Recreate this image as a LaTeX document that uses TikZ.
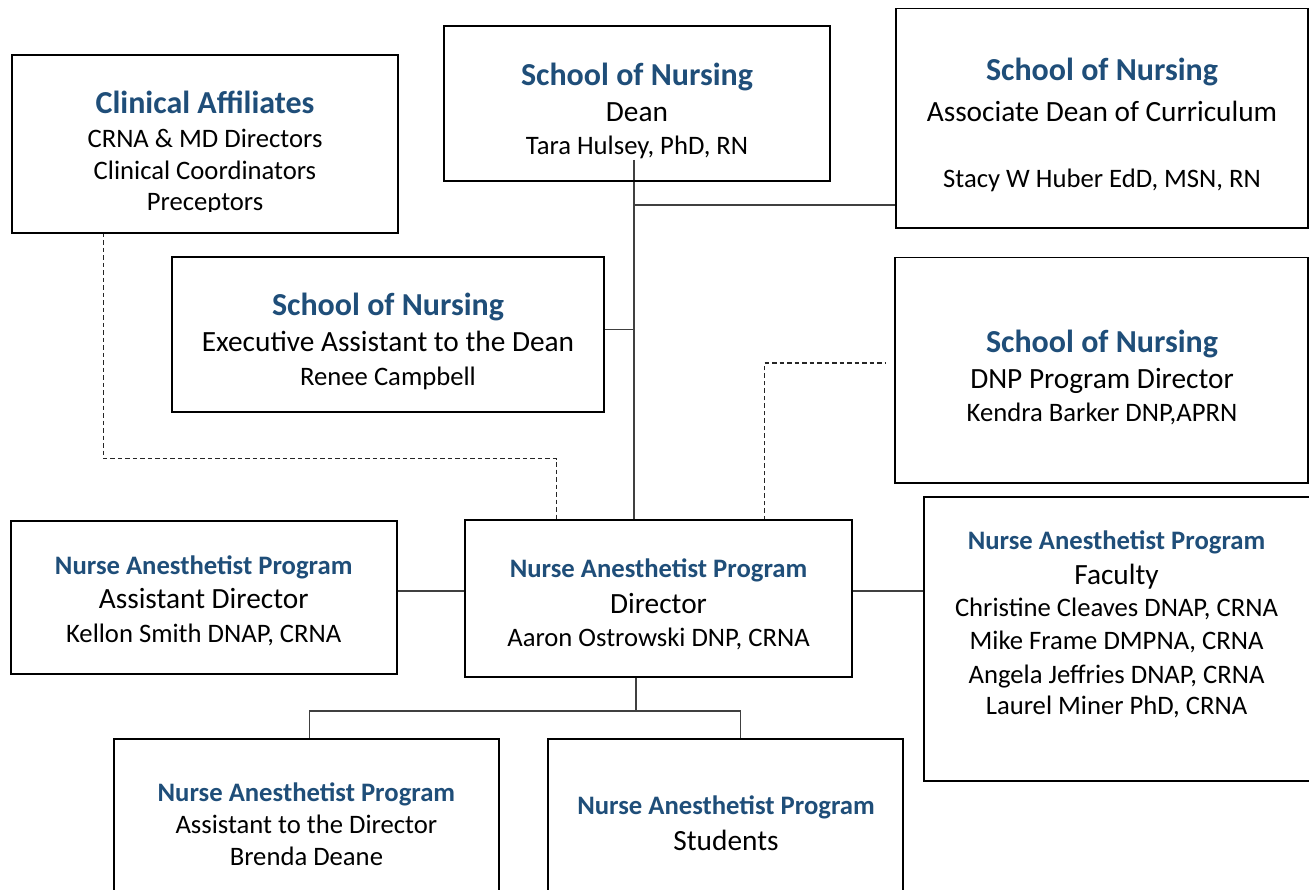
\documentclass[tikz,border=0pt]{standalone}
\usepackage{fontspec}
\setmainfont{Carlito}
\usetikzlibrary{calc}
\definecolor{tblue}{HTML}{1F4E79}
\definecolor{lgray}{HTML}{404040}
\begin{document}
\begin{tikzpicture}[x=1pt,y=-1pt,
  box/.style={draw=black,line width=1.8pt,inner sep=0pt,outer sep=0pt,anchor=north west,rectangle},
  conn/.style={draw=lgray,line width=1.3pt},
  dsh/.style={draw=black!85,line width=1.1pt,dash pattern=on 4.5pt off 3pt},
  tt/.style={anchor=base,inner sep=0pt,yshift=-2pt,font=\fontsize{32}{38}\selectfont\bfseries,text=tblue},
  tp/.style={anchor=base,inner sep=0pt,yshift=-2pt,font=\fontsize{26.67}{32}\selectfont\bfseries,text=tblue},
  tb/.style={anchor=base,inner sep=0pt,yshift=-2pt,font=\fontsize{29.33}{35}\selectfont,text=black},
  tn/.style={anchor=base,inner sep=0pt,yshift=-2pt,font=\fontsize{26.67}{32}\selectfont,text=black}]
\useasboundingbox (0,0) rectangle (1309,890);
\fill[white] (0,0) rectangle (1309,890);

% boxes (positions)
\path
  (12,55)       node[box,minimum width=386pt,minimum height=178pt] (clin) {}
  (444,26)      node[box,minimum width=386pt,minimum height=155pt] (dean) {}
  (896,8.5)     node[box,minimum width=412pt,minimum height=219.8pt] (assoc) {}
  (172,256.7)   node[box,minimum width=432pt,minimum height=155pt] (exec) {}
  (895,257.6)   node[box,minimum width=413pt,minimum height=225.1pt] (dnp) {}
  (10.7,521)    node[box,minimum width=386pt,minimum height=153.3pt] (adir) {}
  (465,520.3)   node[box,minimum width=386.7pt,minimum height=156.4pt] (dir) {}
  (924,496.6)   node[box,minimum width=390pt,minimum height=284.4pt] (fac) {}
  (113.8,739.3) node[box,minimum width=385.2pt,minimum height=160.7pt] (atd) {}
  (548,739.3)   node[box,minimum width=355pt,minimum height=160.7pt] (stu) {};

% solid connectors
\coordinate (t0) at (634,160);
\coordinate (ta) at (634,205);
\coordinate (te) at (634,329.3);
\coordinate (h1) at (0,591);
\coordinate (b0) at (636,711);
\coordinate (bl) at (309.6,711);
\coordinate (br) at (740.8,711);
\draw[conn] (t0) -- (t0 |- dir.north);
\draw[conn] (ta) -- (ta -| assoc.west);
\draw[conn] (te -| exec.east) -- (te);
\draw[conn] (h1 -| adir.east) -- (h1 -| dir.west);
\draw[conn] (h1 -| dir.east) -- (h1 -| fac.west);
\draw[conn] (b0 |- dir.south) -- (b0);
\draw[conn] (bl |- atd.north) -- (bl) -- (br) -- (br |- stu.north);

% dashed connectors
\coordinate (d1) at (103.3,458.5);
\coordinate (d2) at (556.7,458.5);
\coordinate (r1) at (764.5,363);
\coordinate (r2) at (886,363);
\draw[dsh] (clin.south -| d1) -- (d1) -- (d2) -- (d2 |- dir.north);
\draw[dsh] (r1 |- dir.north) -- (r1) -- (r2);

% redraw box outlines on top
\foreach \b in {clin,dean,assoc,exec,dnp,adir,dir,fac,atd,stu}
  \draw[black,line width=1.8pt] (\b.north west) rectangle (\b.south east);

% texts
\node[tt] (clinA) at (205,111.7) {Clinical Affiliates};
\node[tn] (clinB) at (205,146) {CRNA \& MD Directors};
\node[tn] (clinC) at (205,178) {Clinical Coordinators};
\begin{scope}
  \clip (12,55) rectangle (398,212);
  \node[tn] (clinD) at (205,209) {Preceptors};
\end{scope}

\node[tt] (deanA) at (637,83.3) {School of Nursing};
\node[tb] (deanB) at (637,120) {Dean};
\node[tn] (deanC) at (637,152.7) {Tara Hulsey, PhD, RN};

\node[tt] (assocA) at (1102,78.3) {School of Nursing};
\node[tb] (assocB) at (1102,120) {Associate Dean of Curriculum};
\node[tn] (assocC) at (1102,186) {Stacy W Huber EdD, MSN, RN};

\node[tt] (execA) at (388,314) {School of Nursing};
\node[tb] (execB) at (388,350) {Executive Assistant to the Dean};
\node[tn] (execC) at (388,383.3) {Renee Campbell};

\node[tt] (dnpA) at (1102,350.7) {School of Nursing};
\node[tb] (dnpB) at (1102,386.2) {DNP Program Director};
\node[tn] (dnpC) at (1102,419) {Kendra Barker DNP,APRN};

\node[tp] (adirA) at (203.7,572.3) {Nurse Anesthetist Program};
\node[tb] (adirB) at (203.7,606.7) {Assistant Director};
\node[tn] (adirC) at (203.7,640) {Kellon Smith DNAP, CRNA};

\node[tp] (dirA) at (658.5,575.7) {Nurse Anesthetist Program};
\node[tb] (dirB) at (658.5,611) {Director};
\node[tn] (dirC) at (658.5,644.3) {Aaron Ostrowski DNP, CRNA};

\node[tp] (facA) at (1116.5,547.2) {Nurse Anesthetist Program};
\node[tb] (facB) at (1116.5,582.8) {Faculty};
\node[tn] (facC) at (1116.5,614.8) {Christine Cleaves DNAP, CRNA};
\node[tn] (facD) at (1116.5,647.6) {Mike Frame DMPNA, CRNA};
\node[tn] (facE) at (1116.5,681) {Angela Jeffries DNAP, CRNA};
\node[tn] (facF) at (1116.5,712.8) {Laurel Miner PhD, CRNA};

\node[tp] (atdA) at (306.4,799) {Nurse Anesthetist Program};
\node[tn] (atdB) at (306.4,831.7) {Assistant to the Director};
\node[tn] (atdC) at (306.4,863) {Brenda Deane};

\node[tp] (stuA) at (726,812.7) {Nurse Anesthetist Program};
\node[tb] (stuB) at (726,848) {Students};
\end{tikzpicture}
\end{document}
